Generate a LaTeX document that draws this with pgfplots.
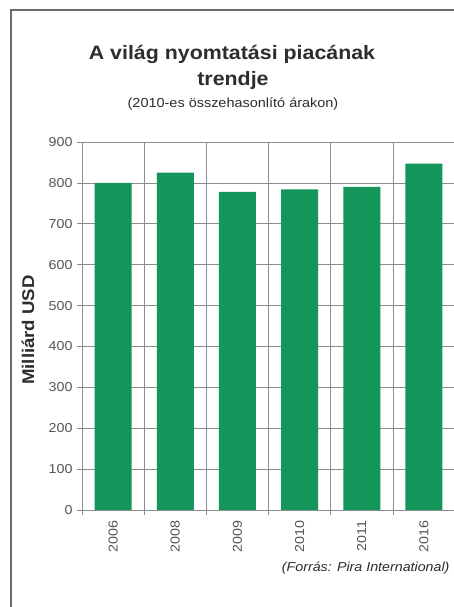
\documentclass[border=0pt]{standalone}
\usepackage{fontspec}
\setmainfont{Liberation Sans}[FakeStretch=1.1]
\usepackage{pgfplots}
\pgfplotsset{compat=1.18}
\definecolor{bargreen}{RGB}{20,149,90}
\definecolor{gridgray}{RGB}{140,140,140}
\definecolor{ticktext}{RGB}{85,85,85}
\definecolor{titletext}{RGB}{45,45,45}
\begin{document}
\begin{tikzpicture}[x=1bp,y=1bp]
\path[use as bounding box] (0,0) rectangle (454,607);
\clip (0,0) rectangle (454,607);
\fill[white] (0,0) rectangle (454,607);
\draw[gray!85!black, line width=1.6bp] (11,-20) -- (11,597) -- (480,597);
\begin{axis}[
  at={(82bp,97bp)}, anchor=south west,
  scale only axis, width=373bp, height=368bp,
  xmin=-0.5, xmax=5.5, ymin=0, ymax=900,
  ytick={0,100,...,900},
  xtick={-0.5,0.5,...,5.5}, xticklabels={},
  extra x ticks={0,1,2,3,4,5},
  extra x tick labels={2006,2008,2009,2010,2011,2016},
  extra x tick style={grid=none, major tick length=0pt,
     tick label style={rotate=90, anchor=east, yshift=0bp, xshift=-7bp}},
  xtick pos=bottom, ytick pos=left,
  xmajorgrids, ymajorgrids,
  grid style={gridgray, line width=0.6bp},
  tick align=outside, major tick length=5bp,
  tick style={gridgray, line width=0.6bp},
  axis line style={gridgray, line width=0.6bp},
  tick label style={font=\fontsize{13}{15}\selectfont, text=ticktext},
  /pgf/number format/assume math mode=true,
  yticklabel style={xshift=-1bp},
  ybar, bar width=37bp,
]
\addplot[fill=bargreen, draw=none] coordinates {(0,800) (1,825) (2,778) (3,784) (4,790) (5,847)};
\end{axis}
\node[font=\bfseries\fontsize{19.5}{22}\selectfont, text=titletext] at (232,553) {A világ nyomtatási piacának};
\node[font=\bfseries\fontsize{19.5}{22}\selectfont, text=titletext] at (233,527) {trendje};
\node[font=\fontsize{13.2}{15}\selectfont, text=titletext] at (233,503) {(2010-es összehasonlító árakon)};
\node[font=\bfseries\fontsize{17}{20}\selectfont, text=titletext, rotate=90] at (28,277) {Milliárd USD};
\node[font=\itshape\fontsize{13}{15}\selectfont, text=titletext, anchor=east] at (453,39) {(Forrás: Pira International)};
\end{tikzpicture}
\end{document}
